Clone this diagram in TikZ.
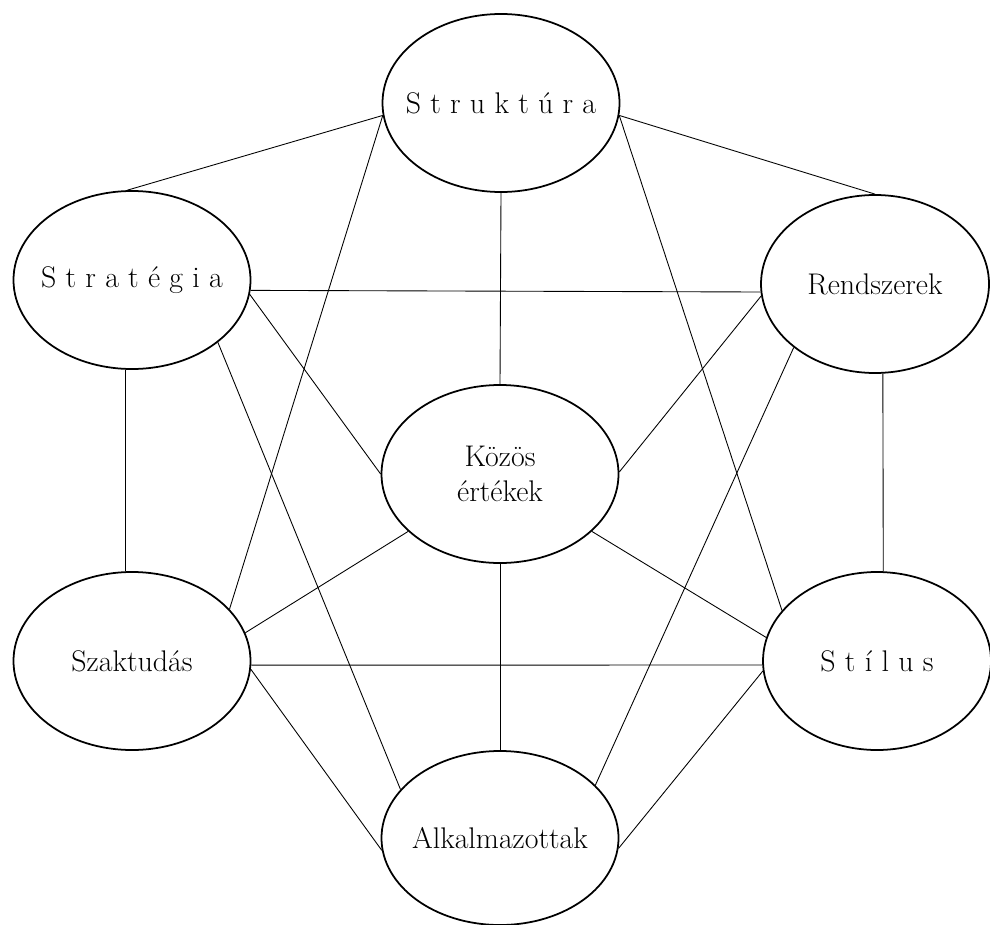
\documentclass[tikz,border=0pt]{standalone}
\usepackage{fontspec}
\usetikzlibrary{shapes.geometric}

% ritkitott betuk
\makeatletter
\newcommand\ritka[1]{\kern-0.31em\@tfor\betu:=#1\do{\kern0.31em\betu}}
\makeatother

\tikzset{
  elem/.style={ellipse, draw, line width=1pt, minimum width=47.4mm,
    minimum height=35.6mm, inner sep=-10mm, align=center,
    font=\fontsize{17}{19.9}\selectfont},
  keskeny/.style={minimum width=45.6mm},
  kapcsolat/.style={line width=0.5pt}
}

\begin{document}
\begin{tikzpicture}[x=0.2mm, y=-0.2mm]
    \useasboundingbox (0,0) rectangle (990,925);

    % Elemek
    \node[elem] (struktura) at (501,103) {\ritka{Struktúra}};
    \node[elem] (strategia) at (132,280) {\ritka{Stratégia}};
    \node[elem, keskeny] (rendszerek) at (875,284) {Rendszerek};
    \node[elem] (kozos) at (500,474) {Közös\\értékek};
    \node[elem] (szaktudas) at (132,661) {Szaktudás};
    \node[elem, keskeny] (stilus) at (877,661) {\ritka{Stílus}};
    \node[elem, minimum height=34.8mm] (alkalmazottak) at (500,838) {Alkalmazottak};

    % Kapcsolatok
    \draw[kapcsolat] (struktura.186) -- (strategia.93);
    \draw[kapcsolat] (struktura.354) -- (rendszerek.90);
    \draw[kapcsolat] (struktura.south) -- (kozos.north);
    \draw[kapcsolat] (struktura.186) -- (szaktudas.28);
    \draw[kapcsolat] (struktura.354) -- (stilus.152);

    \draw[kapcsolat] (strategia.-5) -- (rendszerek.184);
    \draw[kapcsolat] (strategia.-7) -- (kozos.180);
    \draw[kapcsolat] (strategia.266) -- (szaktudas.94);
    \draw[kapcsolat] (strategia.-36) -- (alkalmazottak.154);

    \draw[kapcsolat] (rendszerek.186) -- (kozos.1);
    \draw[kapcsolat] (rendszerek.275) -- (stilus.86);
    \draw[kapcsolat] (rendszerek.218) -- (alkalmazottak.29);

    \draw[kapcsolat] (kozos.212) -- (szaktudas.14);
    \draw[kapcsolat] (kozos.328) -- (stilus.168);
    \draw[kapcsolat] (kozos.south) -- (alkalmazottak.north);

    \draw[kapcsolat] (szaktudas.-2) -- (stilus.182);
    \draw[kapcsolat] (szaktudas.-4) -- (alkalmazottak.186);
    \draw[kapcsolat] (stilus.185) -- (alkalmazottak.355);
\end{tikzpicture}
\end{document}
